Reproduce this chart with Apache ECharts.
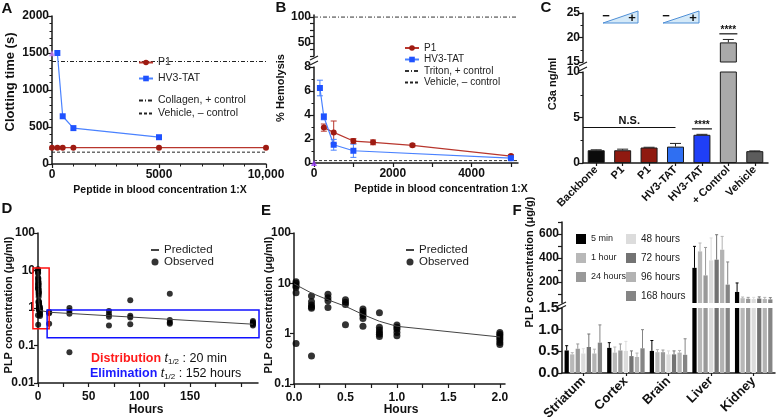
<!DOCTYPE html>
<html><head><meta charset="utf-8">
<script src="https://cdn.jsdelivr.net/npm/echarts@6/dist/echarts.min.js"></script>
<style>html,body{margin:0;padding:0;background:#fff}#c{width:778px;height:417px}</style>
</head><body><div id="c"></div>
<script>
// ---------------- DATA ----------------
// Panel A
const A_X_P1 = [0, 250, 500, 1000, 5000, 10000];
const A_Y_P1 = [220, 220, 220, 220, 220, 220];
const A_X_HV = [250, 500, 1000, 5000];
const A_Y_HV = [1500, 645, 485, 362];
const A_CTRL = [0, 1495];
const A_COLLAGEN = 1385;
const A_VEHICLE = 160;
const A_XRANGE = [0, 10000];
// Panel B
const B_X_P1 = [250, 500, 1000, 1500, 2500, 5000];
const B_Y_P1 = [2.95, 2.55, 1.83, 1.72, 1.47, 0.58];
const B_E_P1 = [0.3, 0.95, 0.2, 0.2, 0.12, 0.1];
const B_X_HV = [150, 250, 500, 1000, 5000];
const B_Y_HV = [6.25, 3.85, 1.52, 1.02, 0.4];
const B_E_HV = [0.65, 0.25, 0.45, 0.55, 0.1];
const B_CTRL = [0, 0];
const B_TRITON = 100;
const B_VEHICLE = 0.2;
const B_XRANGE = [0, 5180];
// Panel C
const C_CATS = ['Backbone', 'P1', 'P1', 'HV3-TAT', 'HV3-TAT', '+ Control', 'Vehicle'];
const C_VALS = [1.4, 1.4, 1.7, 1.8, 3.1, 19.0, 1.3];
const C_ERRS = [0.05, 0.12, 0.03, 0.35, 0.05, 0.6, 0.03];
const C_COLORS = ['#0b0b0b', '#8f1a10', '#8f1a10', '#2f6ff2', '#1f3ff7', '#a9a9a9', '#5c5c5c'];
const C_BREAK = [10, 15];
// Panel E (0-2 h) observed + predicted
const E_T = [0.02,0.02,0.02,0.02,0.02,0.02,
             0.17,0.17,0.17,0.17,0.17,0.17,
             0.33,0.33,0.33,0.33,
             0.5,0.5,0.5,0.5,
             0.67,0.67,0.67,0.67,0.67,0.67,
             0.83,0.83,0.83,0.83,0.83,0.83,
             1.0,1.0,1.0,1.0,1.0,
             2.0,2.0,2.0,2.0,2.0,2.0,2.0];
const E_C = [10.8,10.0,9.0,8.4,6.5,0.64,
             5.6,4.3,3.7,3.4,3.2,0.36,
             6.1,5.2,4.5,3.3,
             4.7,4.2,3.8,1.5,
             3.1,2.8,2.5,2.3,2.0,1.4,
             2.6,1.34,1.18,1.06,0.97,0.88,
             1.49,1.34,1.22,1.06,0.91,
             1.06,0.97,0.9,0.82,0.75,0.67,0.61];
const E_PT = [0, 0.17, 0.33, 0.5, 0.67, 0.83, 1.0, 2.0];
const E_PC = [9.8, 6.4, 4.7, 3.5, 2.4, 1.76, 1.4, 0.86];
// Panel D (late time points, hours)
const D_T = [11,11,11, 31,31,31,31, 70,70,70,70, 91,91,91,91, 130,130,130,130, 212,212,212,212,212];
const D_C = [0.78,0.72,0.38, 1.0,0.83,0.7,0.066, 0.83,0.68,0.58,0.34, 1.6,0.62,0.56,0.37, 2.4,0.48,0.41,0.38, 0.45,0.42,0.4,0.37,0.34];
const D_PT = [11, 212];
const D_PC = [0.77, 0.37];
const D_YTICKS = [0.01, 0.1, 1, 10, 100];
// Panel F
const F_CATS = ['Striatum', 'Cortex', 'Brain', 'Liver', 'Kidney'];
const F_TIMES = ['5 min', '1 hour', '24 hours', '48 hours', '72 hours', '96 hours', '168 hours'];
const F_COLORS = ['#000000', '#b8b8b8', '#999999', '#dcdcdc', '#737373', '#b3b3b3', '#858585'];
const F_VALS = [
  [0.52, 0.58, 0.51, 318, 117],
  [0.43, 0.47, 0.48, 455, 65],
  [0.56, 0.52, 0.48, 255, 60],
  [0.45, 0.51, 0.43, 380, 58],
  [0.60, 0.39, 0.43, 386, 62],
  [0.45, 0.37, 0.47, 469, 58],
  [0.70, 0.57, 0.42, 178, 55]];
const F_ERRTOP = [
  [0.63, 0.70, 0.75, 497, 192],
  [0.47, 0.60, 0.54, 525, 75],
  [0.67, 0.67, 0.53, 488, 72],
  [0.56, 0.73, 0.51, 567, 72],
  [0.90, 0.51, 0.51, 594, 76],
  [0.55, 0.46, 0.52, 580, 72],
  [1.11, 1.00, 0.79, 367, 70]];
const F_BREAK = [1.5, 25];

// ---------------- STYLE HELPERS ----------------
const FONT = '"Liberation Sans", Arial, Helvetica, sans-serif';
const P1_DOT = '#9e1b12', P1_LINE = '#b8362d', HV_DOT = '#1f52ff', HV_LINE = '#4a82ff';
const CLEAR = 'rgba(0,0,0,0)';
function merge(a, b) {
  const o = Object.assign({}, a);
  for (const k in b) {
    const v = b[k];
    if (v && typeof v === 'object' && !Array.isArray(v) && o[k] && typeof o[k] === 'object' && !Array.isArray(o[k])) o[k] = merge(o[k], v);
    else o[k] = v;
  }
  return o;
}
const plain = v => String(+(+v).toFixed(6));
const AX = {
  axisLine: {show: true, onZero: false, lineStyle: {color: '#1a1a1a', width: 1.5}},
  axisTick: {show: true, inside: false, length: 4, lineStyle: {color: '#1a1a1a', width: 1.2}},
  minorTick: {show: false},
  splitLine: {show: false},
  axisLabel: {color: '#111', fontFamily: FONT, fontWeight: 'bold', fontSize: 12, margin: 4}
};
const V = o => merge(merge(AX, {type: 'value', axisLabel: {formatter: plain}}), o);
const range = (a, b, s) => { const r = []; for (let v = a; v <= b + 1e-9; v += s) r.push(+v.toFixed(4)); return r; };
const zip = (xs, ys) => xs.map((x, i) => [x, ys[i]]);

function errBar(opts) {
  return function (params, api) {
    const x = api.value(0), hi = api.value(2), lo = api.value(3);
    const p1 = api.coord([x, hi]), p0 = api.coord([x, lo]);
    let dx = 0, si = 0;
    if (opts.groupN) {
      si = api.value(4);
      const band = api.size([1, 0])[0];
      const used = band * (1 - opts.gapCat);
      const bw = used / (opts.groupN + (opts.groupN - 1) * opts.gapBar);
      dx = -used / 2 + bw / 2 + si * bw * (1 + opts.gapBar);
    }
    const col = opts.colors ? opts.colors[si] : opts.color;
    const cx = p1[0] + dx, w = opts.capW / 2;
    const ch = [
      {type: 'line', shape: {x1: cx, y1: p1[1], x2: cx, y2: p0[1]}, style: {stroke: col, lineWidth: 1}},
      {type: 'line', shape: {x1: cx - w, y1: p1[1], x2: cx + w, y2: p1[1]}, style: {stroke: col, lineWidth: 1}}
    ];
    if (opts.both) ch.push({type: 'line', shape: {x1: cx - w, y1: p0[1], x2: cx + w, y2: p0[1]}, style: {stroke: col, lineWidth: 1}});
    return {type: 'group', children: ch};
  };
}

// ---------------- OPTION ----------------
const grids = [
  {left: 52, top: 16, width: 214, height: 148},   // 0 A
  {left: 314, top: 15, width: 204, height: 41},   // 1 B upper
  {left: 314, top: 67, width: 204, height: 96},   // 2 B lower
  {left: 583, top: 13, width: 185, height: 49},   // 3 C upper
  {left: 583, top: 72, width: 185, height: 91},   // 4 C lower
  {left: 38, top: 233, width: 220, height: 150},  // 5 D
  {left: 294, top: 233, width: 211, height: 151}, // 6 E
  {left: 562, top: 222, width: 213, height: 81},  // 7 F upper
  {left: 562, top: 308, width: 213, height: 65}   // 8 F lower
].map(g => Object.assign({outerBoundsMode: 'none', containLabel: false}, g));

const xAxis = [
  V({gridIndex: 0, min: A_XRANGE[0], max: A_XRANGE[1], interval: 5000, minorTick: {show: true, splitNumber: 5, length: 2.5, lineStyle: {color: '#1a1a1a'}},
     axisLabel: {formatter: v => v === 10000 ? '10,000' : plain(v), margin: 5}}),
  V({gridIndex: 1, min: B_XRANGE[0], max: B_XRANGE[1], show: false}),
  V({gridIndex: 2, min: B_XRANGE[0], max: B_XRANGE[1], axisLabel: {customValues: [0, 2000, 4000], margin: 5}, axisTick: {customValues: [0, 1000, 2000, 3000, 4000, 5000]}}),
  {type: 'category', gridIndex: 3, data: C_CATS, show: false},
  merge(AX, {type: 'category', gridIndex: 4, data: C_CATS, axisTick: {alignWithLabel: true, length: 3}, axisLabel: {rotate: 45, interval: 0, fontSize: 11, margin: 5}}),
  V({gridIndex: 5, min: 0, max: 217, axisLabel: {customValues: [0, 50, 100, 150], margin: 8, fontSize: 12}, axisTick: {customValues: range(0, 200, 25)}}),
  V({gridIndex: 6, min: 0, max: 2.05, axisLabel: {customValues: [0, 0.5, 1, 1.5, 2], formatter: v => (+v).toFixed(1), margin: 8, fontSize: 12}, axisTick: {customValues: range(0, 2, 0.25)}}),
  {type: 'category', gridIndex: 7, data: F_CATS, show: false},
  merge(AX, {type: 'category', gridIndex: 8, data: F_CATS, axisTick: {alignWithLabel: true, length: 3}, axisLabel: {rotate: 45, interval: 0, fontSize: 13, margin: 6}})
];
const yAxis = [
  V({gridIndex: 0, min: 0, max: 2000, interval: 500, minorTick: {show: true, splitNumber: 5, length: 2.5, lineStyle: {color: '#1a1a1a'}}, axisLabel: {margin: 3}}),
  V({gridIndex: 1, min: 25, max: 104, axisLabel: {customValues: [50, 100], margin: 3}, axisTick: {customValues: [25, 37.5, 50, 62.5, 75, 87.5, 100]}}),
  V({gridIndex: 2, min: 0, max: 8, interval: 2, minorTick: {show: true, splitNumber: 2, length: 2.5, lineStyle: {color: '#1a1a1a'}}, axisLabel: {margin: 3}}),
  V({gridIndex: 3, min: C_BREAK[1], max: 25, interval: 5, minorTick: {show: true, splitNumber: 2, length: 2.5, lineStyle: {color: '#1a1a1a'}}, axisLabel: {margin: 3}}),
  V({gridIndex: 4, min: 0, max: C_BREAK[0], interval: 5, minorTick: {show: true, splitNumber: 2, length: 2.5, lineStyle: {color: '#1a1a1a'}}, axisLabel: {margin: 3}}),
  V({gridIndex: 5, type: 'log', logBase: 10, min: D_YTICKS[0], max: 100, axisLabel: {fontSize: 12, margin: 3, customValues: D_YTICKS.slice(1)}, axisTick: {customValues: D_YTICKS}}),
  V({gridIndex: 6, type: 'log', logBase: 10, min: 0.1, max: 100, axisLabel: {fontSize: 12, margin: 3, showMinLabel: true, customValues: [0.1, 1, 10, 100]}}),
  V({gridIndex: 7, min: F_BREAK[1], max: 700, axisLabel: {customValues: [200, 400, 600], margin: 3}, axisTick: {customValues: range(100, 700, 100)}}),
  V({gridIndex: 8, min: 0, max: F_BREAK[0], interval: 0.5, axisLabel: {fontSize: 15, margin: 3, formatter: v => (+v).toFixed(1)}})
];

const series = [];
// ---- A
series.push({name: 'P1', type: 'line', xAxisIndex: 0, yAxisIndex: 0, data: zip(A_X_P1, A_Y_P1), symbol: 'circle', symbolSize: 6,
  itemStyle: {color: P1_DOT}, lineStyle: {color: P1_LINE, width: 1.2}, z: 4});
series.push({name: 'HV3-TAT', type: 'line', xAxisIndex: 0, yAxisIndex: 0, data: zip(A_X_HV, A_Y_HV), symbol: 'rect', symbolSize: 6,
  itemStyle: {color: HV_DOT}, lineStyle: {color: HV_LINE, width: 1.2}, z: 4});
series.push({name: 'Collagen, + control', type: 'line', xAxisIndex: 0, yAxisIndex: 0, data: [[A_XRANGE[0], A_COLLAGEN], [A_XRANGE[1], A_COLLAGEN]],
  symbol: 'none', itemStyle: {color: CLEAR}, lineStyle: {color: '#222', width: 1, type: [4, 2, 1, 2]}, z: 2});
series.push({name: 'Vehicle, – control', type: 'line', xAxisIndex: 0, yAxisIndex: 0, data: [[A_XRANGE[0], A_VEHICLE], [A_XRANGE[1], A_VEHICLE]],
  symbol: 'none', itemStyle: {color: CLEAR}, lineStyle: {color: '#222', width: 1, type: [3, 2]}, z: 2});
series.push({type: 'scatter', xAxisIndex: 0, yAxisIndex: 0, data: [A_CTRL], symbol: 'triangle', symbolSize: 6, itemStyle: {color: '#c77dff'}, z: 5});
// ---- B
series.push({type: 'custom', xAxisIndex: 2, yAxisIndex: 2, renderItem: errBar({capW: 6, both: true, color: P1_LINE}),
  data: B_X_P1.map((x, i) => [x, B_Y_P1[i], B_Y_P1[i] + B_E_P1[i], B_Y_P1[i] - B_E_P1[i]]), z: 2});
series.push({type: 'custom', xAxisIndex: 2, yAxisIndex: 2, renderItem: errBar({capW: 6, both: true, color: HV_LINE}),
  data: B_X_HV.map((x, i) => [x, B_Y_HV[i], B_Y_HV[i] + B_E_HV[i], B_Y_HV[i] - B_E_HV[i]]), z: 2});
series.push({name: 'P1', type: 'line', xAxisIndex: 2, yAxisIndex: 2, data: zip(B_X_P1, B_Y_P1), symbol: 'circle', symbolSize: 6,
  itemStyle: {color: P1_DOT}, lineStyle: {color: P1_LINE, width: 1.2}, z: 4});
series.push({name: 'HV3-TAT', type: 'line', xAxisIndex: 2, yAxisIndex: 2, data: zip(B_X_HV, B_Y_HV), symbol: 'rect', symbolSize: 6,
  itemStyle: {color: HV_DOT}, lineStyle: {color: HV_LINE, width: 1.2}, z: 4});
series.push({name: 'Triton, + control', type: 'line', xAxisIndex: 1, yAxisIndex: 1, data: [[B_XRANGE[0], B_TRITON], [B_XRANGE[1], B_TRITON]],
  symbol: 'none', itemStyle: {color: CLEAR}, lineStyle: {color: '#333', width: 1, type: [4, 2, 1, 2]}, z: 2});
series.push({name: 'Vehicle, – control', type: 'line', xAxisIndex: 2, yAxisIndex: 2, data: [[B_XRANGE[0], B_VEHICLE], [B_XRANGE[1], B_VEHICLE]],
  symbol: 'none', itemStyle: {color: CLEAR}, lineStyle: {color: '#333', width: 1, type: [3, 2]}, z: 2});
series.push({type: 'scatter', xAxisIndex: 2, yAxisIndex: 2, data: [B_CTRL], symbol: 'triangle', symbolSize: 6, itemStyle: {color: '#9b3dff'}, z: 5});
// ---- C
series.push({type: 'bar', xAxisIndex: 4, yAxisIndex: 4, clip: true, barWidth: 17,
  data: C_VALS.map((v, i) => ({value: v, itemStyle: {color: C_COLORS[i]}})), itemStyle: {borderColor: '#1a1a1a', borderWidth: 1}});
series.push({type: 'bar', xAxisIndex: 3, yAxisIndex: 3, clip: true, barWidth: 17,
  data: C_VALS.map((v, i) => v > C_BREAK[1] ? {value: v, itemStyle: {color: C_COLORS[i]}} : '-'), itemStyle: {borderColor: '#1a1a1a', borderWidth: 1}});
series.push({type: 'custom', xAxisIndex: 4, yAxisIndex: 4, renderItem: errBar({capW: 11, color: '#222'}), z: 3,
  data: C_VALS.map((v, i) => v < C_BREAK[0] ? [i, v, v + C_ERRS[i], v] : null).filter(d => d)});
series.push({type: 'custom', xAxisIndex: 3, yAxisIndex: 3, renderItem: errBar({capW: 11, color: '#222'}), z: 3,
  data: C_VALS.map((v, i) => v > C_BREAK[1] ? [i, v, v + C_ERRS[i], v] : null).filter(d => d)});
// ---- D
series.push({name: 'Observed', type: 'scatter', xAxisIndex: 5, yAxisIndex: 5, symbolSize: 6, itemStyle: {color: '#000'},
  data: zip(E_T, E_C).concat(zip(D_T, D_C)), z: 3});
series.push({name: 'Predicted', type: 'line', xAxisIndex: 5, yAxisIndex: 5, symbol: 'none', itemStyle: {color: CLEAR}, lineStyle: {color: '#444', width: 1},
  data: zip(E_PT, E_PC).concat(zip(D_PT, D_PC)), z: 4});
// ---- E
series.push({name: 'Observed', type: 'scatter', xAxisIndex: 6, yAxisIndex: 6, symbolSize: 7, itemStyle: {color: '#000'}, data: zip(E_T, E_C), z: 3});
series.push({name: 'Predicted', type: 'line', xAxisIndex: 6, yAxisIndex: 6, symbol: 'none', itemStyle: {color: CLEAR}, lineStyle: {color: '#444', width: 1}, data: zip(E_PT, E_PC), z: 4});
// ---- F
F_TIMES.forEach((name, si) => {
  series.push({name, type: 'bar', xAxisIndex: 8, yAxisIndex: 8, clip: true, barGap: '30%', barCategoryGap: '12%',
    itemStyle: {color: F_COLORS[si]}, data: F_VALS[si].slice()});
  series.push({name, type: 'bar', xAxisIndex: 7, yAxisIndex: 7, clip: true, barGap: '30%', barCategoryGap: '12%',
    itemStyle: {color: F_COLORS[si]}, data: F_VALS[si].map(v => v > F_BREAK[0] ? v : '-')});
});
const fErrLow = [], fErrHigh = [];
F_TIMES.forEach((n, si) => F_VALS[si].forEach((v, ci) => {
  (v > F_BREAK[0] ? fErrHigh : fErrLow).push([ci, v, F_ERRTOP[si][ci], v, si]);
}));
const fOpts = {capW: 3, groupN: 7, gapCat: 0.12, gapBar: 0.3, colors: F_COLORS};
series.push({type: 'custom', xAxisIndex: 8, yAxisIndex: 8, renderItem: errBar(fOpts), data: fErrLow, z: 3});
series.push({type: 'custom', xAxisIndex: 7, yAxisIndex: 7, renderItem: errBar(fOpts), data: fErrHigh, z: 3});

const LT = {fontFamily: FONT, color: '#222'};
const legend = [
  {data: ['P1', 'HV3-TAT'], left: 138, top: 57, orient: 'vertical', itemWidth: 14, itemHeight: 7, itemGap: 5, padding: 0, selectedMode: false, textStyle: merge(LT, {fontSize: 10.5})},
  {data: ['Collagen, + control', 'Vehicle, – control'], left: 138, top: 95, orient: 'vertical', itemWidth: 14, itemHeight: 7, itemGap: 2, padding: 0, selectedMode: false, textStyle: merge(LT, {fontSize: 10.5})},
  {data: ['P1', 'HV3-TAT', 'Triton, + control', 'Vehicle, – control'], left: 404, top: 43, orient: 'vertical', itemWidth: 14, itemHeight: 7, itemGap: 1.5, padding: 0, selectedMode: false, textStyle: merge(LT, {fontSize: 10})},
  {data: ['Predicted', 'Observed'], left: 150, top: 244, orient: 'vertical', itemWidth: 8, itemHeight: 7, itemGap: 0, padding: 0, selectedMode: false, textStyle: merge(LT, {fontSize: 11.5})},
  {data: ['Predicted', 'Observed'], left: 405, top: 244, orient: 'vertical', itemWidth: 8, itemHeight: 7, itemGap: 0, padding: 0, selectedMode: false, textStyle: merge(LT, {fontSize: 11.5})},
  {data: F_TIMES.slice(0, 3), left: 576, top: 234, orient: 'vertical', icon: 'rect', itemWidth: 10, itemHeight: 10, itemGap: 9, padding: 0, selectedMode: false, textStyle: merge(LT, {fontSize: 9})},
  {data: F_TIMES.slice(3), left: 626, top: 234, orient: 'vertical', icon: 'rect', itemWidth: 10, itemHeight: 10, itemGap: 9, padding: 0, selectedMode: false, textStyle: merge(LT, {fontSize: 10})}
];

const chart = echarts.init(document.getElementById('c'), null, {renderer: 'canvas'});
chart.setOption({animation: false, backgroundColor: '#fff', grid: grids, xAxis, yAxis, series, legend});

// ---------------- ANNOTATIONS ----------------
const g = [];
const txt = (text, x, y, fs, opt) => g.push({type: 'text', x, y, z: 100, rotation: (opt && opt.rot) ? Math.PI / 2 : 0,
  style: Object.assign({text, fontFamily: FONT, fontSize: fs, fontWeight: 'bold', fill: '#111', align: 'center', verticalAlign: 'middle'}, (opt && opt.style) || {})});
// panel letters
[['A', 7, 9], ['B', 281, 8], ['C', 546, 8], ['D', 7, 209], ['E', 266, 211], ['F', 517, 211]].forEach(p => txt(p[0], p[1], p[2], 15));
// axis titles
txt('Clotting time (s)', 10, 82, 13, {rot: true});
txt('% Hemolysis', 281, 88, 11, {rot: true});
txt('C3a ng/ml', 553, 84, 11, {rot: true});
txt('PLP concentration (μg/ml)', 9, 305, 11, {rot: true});
txt('PLP concentration (μg/ml)', 269, 305, 11, {rot: true});
txt('PLP concentration (μg/g)', 530, 262, 11, {rot: true});
txt('Peptide in blood concentration 1:X', 160, 190, 10.5);
txt('Peptide in blood concentration 1:X', 441, 189, 10.5);
txt('Hours', 146, 410, 12);
txt('Hours', 401, 410, 12);
// D: lowest y tick label (grid D: left 38, bottom 383)
txt('0.01', 23, 383, 12);
// axis breaks
const brk = (x, y) => g.push({type: 'line', shape: {x1: x - 4, y1: y + 2, x2: x + 4, y2: y - 2}, style: {stroke: '#1a1a1a', lineWidth: 1.2}, z: 100});
brk(314, 58); brk(314, 63);
brk(583, 64); brk(583, 69);
brk(562, 304); brk(562, 307.5);
// C: triangles
[[603, 638], [663, 699]].forEach(t => {
  g.push({type: 'polygon', shape: {points: [[t[0], 23], [t[1], 23], [t[1], 11]]}, style: {fill: '#d4e9f8', stroke: '#4f8fd6', lineWidth: 1}, z: 100});
  txt('−', t[0] + 3, 16, 13);
  txt('+', t[1] - 6, 18.5, 13);
});
// C: significance annotations
const cp = (i, v, gi) => chart.convertToPixel({xAxisIndex: gi, yAxisIndex: gi}, [i, v]);
const hl = (a, b, col, lw) => g.push({type: 'line', shape: {x1: a[0], y1: a[1], x2: b[0], y2: a[1]}, style: {stroke: col || '#111', lineWidth: lw || 1.2}, z: 100});
{
  const y0 = cp(0, 3.9, 4), y3 = cp(3, 3.9, 4);
  hl([583, y0[1]], [y3[0], y0[1]], '#111', 1.2);
  txt('N.S.', (583 + y3[0]) / 2, y0[1] - 7, 11);
  const s4 = cp(4, 3.75, 4);
  hl([s4[0] - 10, s4[1]], [s4[0] + 10, s4[1]]);
  txt('****', s4[0], s4[1] - 4, 10);
  const s5 = cp(5, 20.75, 3);
  hl([s5[0] - 9, s5[1]], [s5[0] + 9, s5[1]]);
  txt('****', s5[0], s5[1] - 4, 10);
}
// D: boxes
{
  const dp = v => chart.convertToPixel({gridIndex: 5}, v);
  const r0 = dp([-5, 11.7]), r1 = dp([11, 0.28]);
  g.push({type: 'rect', shape: {x: r0[0], y: r0[1], width: r1[0] - r0[0], height: r1[1] - r0[1]}, style: {fill: 'none', stroke: '#ff1010', lineWidth: 1.5}, z: 90});
  const b0 = dp([9, 0.88]), b1 = dp([218, 0.16]);
  g.push({type: 'rect', shape: {x: b0[0], y: b0[1], width: b1[0] - b0[0], height: b1[1] - b0[1]}, style: {fill: 'none', stroke: '#1010ff', lineWidth: 1.5}, z: 90});
  const rich = col => ({
    h: {fill: col, fontWeight: 'bold', fontSize: 12.5, fontFamily: FONT, verticalAlign: 'middle'},
    i: {fill: '#111', fontStyle: 'italic', fontSize: 12.5, fontFamily: FONT, verticalAlign: 'middle'},
    s: {fill: '#111', fontSize: 8, fontFamily: FONT, verticalAlign: 'bottom'},
    n: {fill: '#111', fontSize: 12.5, fontFamily: FONT, verticalAlign: 'middle'}
  });
  g.push({type: 'text', x: 91, y: 359, z: 100, style: {text: '{h|Distribution} {i|t}{s|1/2}{n| : 20 min}', rich: rich('#ff1a1a'), verticalAlign: 'middle', align: 'left'}});
  g.push({type: 'text', x: 90, y: 374, z: 100, style: {text: '{h|Elimination} {i|t}{s|1/2}{n| : 152 hours}', rich: rich('#1a1aff'), verticalAlign: 'middle', align: 'left'}});
}
chart.setOption({graphic: {elements: g}});
</script>
</body></html>
